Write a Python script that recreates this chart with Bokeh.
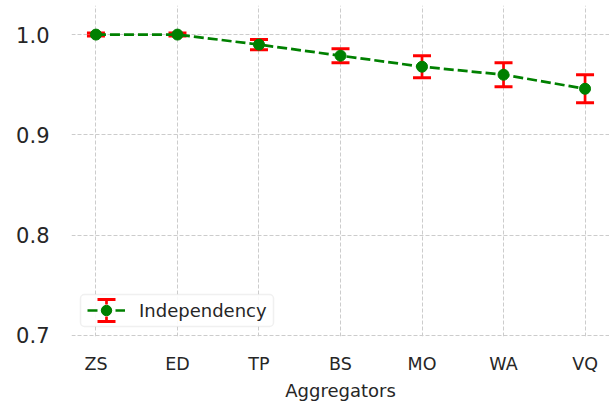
from bokeh.plotting import figure
from bokeh.models import (ColumnDataSource, Range1d, FixedTicker, Whisker, TeeHead,
                          Legend, LegendItem, PrintfTickFormatter, Arrow, BoxAnnotation)
from bokeh.embed import file_html
from bokeh.resources import INLINE

# ---- data ----
categories = ["ZS", "ED", "TP", "BS", "MO", "WA", "VQ"]
means = [1.000, 1.000, 0.990, 0.979, 0.968, 0.960, 0.946]
errors = [0.0015, 0.0015, 0.005, 0.007, 0.011, 0.012, 0.014]
y_ticks = [0.7, 0.8, 0.9, 1.0]
series_name = "Independency"
x_label = "Aggregators"

xs = list(range(len(categories)))
source = ColumnDataSource(dict(
    x=xs, y=means,
    upper=[m + e for m, e in zip(means, errors)],
    lower=[m - e for m, e in zip(means, errors)],
))

TEXT = "#262626"
FONT = "DejaVu Sans"

p = figure(width=609, height=403, output_backend="svg", toolbar_location=None,
           x_range=Range1d(-0.3, len(categories) - 1 + 0.3),
           y_range=Range1d(0.699, 1.029),
           min_border_left=71, min_border_right=0, min_border_top=5, min_border_bottom=0)
p.outline_line_color = None
p.background_fill_color = "white"
p.border_fill_color = "white"

# grids
for g in (p.xgrid, p.ygrid):
    g.grid_line_color = "#cccccc"
    g.grid_line_dash = "4 2"
    g.grid_line_width = 1

# axes
p.xaxis.ticker = FixedTicker(ticks=xs)
p.xaxis.major_label_overrides = {i: c for i, c in enumerate(categories)}
p.yaxis.ticker = FixedTicker(ticks=y_ticks)
p.yaxis.formatter = PrintfTickFormatter(format="%.1f")
for ax in (p.xaxis[0], p.yaxis[0]):
    ax.axis_line_color = None
    ax.major_tick_line_color = None
    ax.minor_tick_line_color = None
    ax.major_tick_out = 0
    ax.major_tick_in = 0
    ax.minor_tick_out = 0
    ax.major_label_text_color = TEXT
    ax.major_label_text_font = FONT
p.xaxis.major_label_text_font_size = "17.5px"
p.yaxis.major_label_text_font_size = "21px"
p.yaxis.major_label_standoff = 22
p.xaxis.major_label_standoff = 17
p.xaxis.axis_label = x_label
p.xaxis.axis_label_text_font = FONT
p.xaxis.axis_label_text_font_size = "18px"
p.xaxis.axis_label_text_font_style = "normal"
p.xaxis.axis_label_text_color = TEXT
p.xaxis.axis_label_standoff = 3

# error bars
whisker = Whisker(base="x", upper="upper", lower="lower", source=source,
                  line_color="red", line_width=2.7, level="underlay",
                  upper_head=TeeHead(size=18, line_color="red", line_width=3),
                  lower_head=TeeHead(size=18, line_color="red", line_width=3))
p.add_layout(whisker)

line_r = p.line("x", "y", source=source, line_color="green", line_width=2.7, line_dash="10 4")
pts_r = p.scatter("x", "y", source=source, size=11, fill_color="green", line_color="green")

LX, LY, PAD, GW, GH, LW, LH = 9, 10, 5, 38, 26, 193, 32
GX = LX + PAD + 2            # left of the legend glyph area
GY = LY + (LH - GH) / 2      # bottom of the legend glyph area

# legend frame (white box with rounded light-grey border), in screen units
p.add_layout(BoxAnnotation(left=LX, right=LX + LW, bottom=LY, top=LY + LH,
                           left_units="screen", right_units="screen",
                           bottom_units="screen", top_units="screen",
                           fill_color="white", fill_alpha=0.9,
                           line_color="#cccccc", line_width=1.5, border_radius=4,
                           level="underlay", editable=False))

legend = Legend(items=[LegendItem(label=series_name, renderers=[line_r, pts_r])],
                location=(GX, GY), padding=0, spacing=0, margin=0,
                glyph_width=GW, glyph_height=GH, label_height=GH, label_standoff=14,
                label_text_font=FONT, label_text_font_size="18px", label_text_color=TEXT,
                border_line_color=None, background_fill_alpha=0)
p.add_layout(legend)

# red error-bar symbol in the legend (screen units, relative to frame)
cx = GX + GW / 2
cy = GY + GH / 2
for a, b in ((cy + 6, cy + 11), (cy - 6, cy - 11)):
    p.add_layout(Arrow(x_start=cx, y_start=a, x_end=cx, y_end=b,
                       start_units="screen", end_units="screen",
                       line_color="red", line_width=2.7, start=None, level="overlay",
                       end=TeeHead(size=18, line_color="red", line_width=3)))

open("out.html", "w").write(file_html(p, INLINE))
